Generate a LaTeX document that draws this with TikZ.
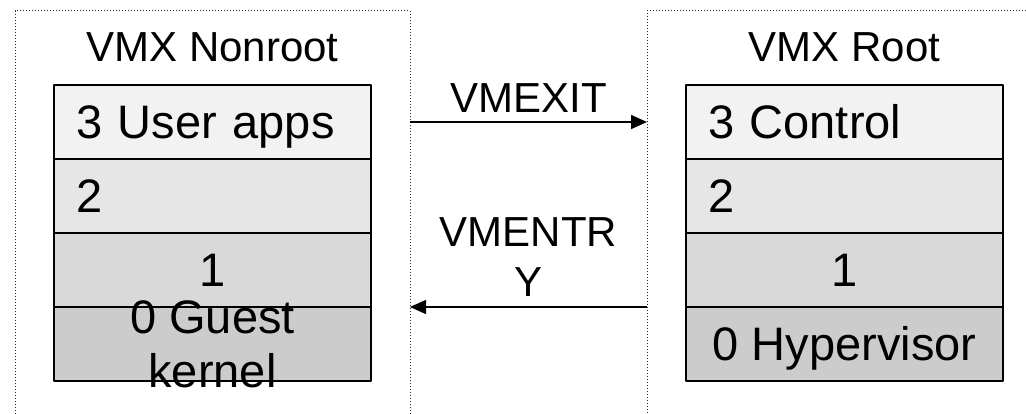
\documentclass[tikz,border=0pt]{standalone}
\usepackage{fontspec}
\setmainfont{Liberation Sans}
\usetikzlibrary{positioning,arrows.meta}
\definecolor{ringthree}{HTML}{F2F2F2}
\definecolor{ringtwo}{HTML}{E6E6E6}
\definecolor{ringone}{HTML}{D9D9D9}
\definecolor{ringzero}{HTML}{CCCCCC}
\tikzset{
  frame/.style={draw=black!85, dotted, line width=1pt, anchor=north west,
    minimum height=440pt, inner sep=0pt, outer sep=0pt},
  ring/.style={draw, line width=1.5pt, minimum width=317pt, minimum height=74pt,
    inner sep=0pt, outer sep=0pt, text height=33.6pt, text depth=0pt,
    font=\fontsize{47}{54}\selectfont},
  ringleft/.style={ring, text width=273pt, align=left},
  title/.style={font=\fontsize{42}{50}\selectfont, inner sep=0pt},
}
\begin{document}
\begin{tikzpicture}[x=1pt, y=-1pt, line join=round, >={Triangle[length=16pt,width=14pt]}]
  \useasboundingbox (0,0) rectangle (1026,414);
  % \draw[gray!50] (0,0) grid[step=50] (1026,414);
  \node[frame, minimum width=395pt] (nonroot) at (15,11) {};
  \node[frame, minimum width=400pt] (root) at (647,11) {};

  % guest side
  \node[ringleft, fill=ringthree, anchor=north] (l3) at (212.5,85) {3 User apps};
  \node[ringleft, fill=ringtwo, below=0pt of l3] (l2) {2};
  \node[ring, fill=ringone, below=0pt of l2] (l1) {1};
  \node[ring, fill=ringzero, below=0pt of l1,
    label={[font=\fontsize{47}{54}\selectfont, align=center]center:0 Guest\\kernel}] (l0) {};
  \node[title, above=23pt of l3] (tl) {VMX Nonroot};

  % host side
  \node[ringleft, fill=ringthree, anchor=north] (r3) at (844.5,85) {3 Control};
  \node[ringleft, fill=ringtwo, below=0pt of r3] (r2) {2};
  \node[ring, fill=ringone, below=0pt of r2] (r1) {1};
  \node[ring, fill=ringzero, below=0pt of r1] (r0) {0 Hypervisor};
  \node[title, above=23pt of r3] (tr) {VMX Root};

  \draw[->, line width=1.5pt] (l3 -| nonroot.east) -- (r3 -| root.west)
    node[midway, above=9pt, title] (exit) {VMEXIT};
  \draw[->, line width=1.5pt] (l0.north -| root.west) -- (l0.north -| nonroot.east)
    node[midway, above=10pt, title, align=center] (entry) {VMENTR\\Y};
\end{tikzpicture}
\end{document}
